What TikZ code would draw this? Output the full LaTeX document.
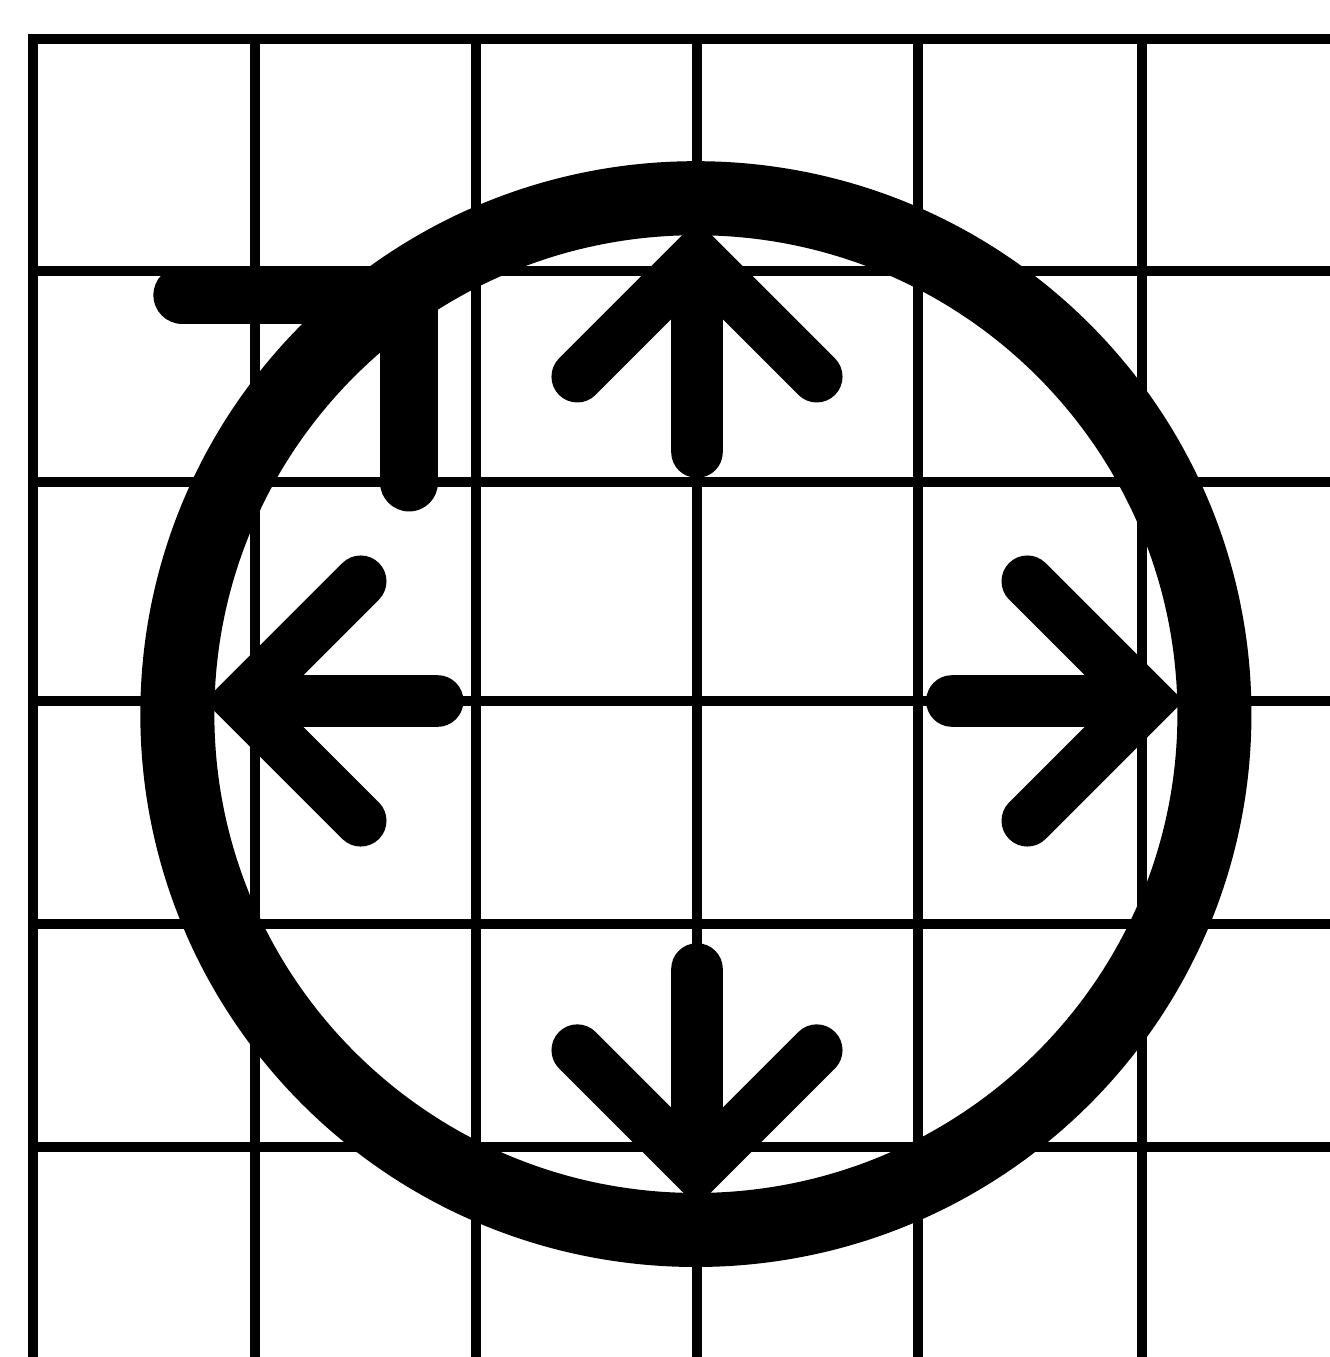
\documentclass[tikz,border=0pt]{standalone}
\begin{document}
\begin{tikzpicture}[gridline/.style={line width=.045cm,line cap=rect},ring/.style={line width=.334cm},pointer/.style={line width=.233cm,line cap=round,line join=miter},cornermark/.style={line width=.262cm,line cap=round,line join=miter}]
\useasboundingbox (-3.144,-2.959) rectangle (2.855,3.162);
\clip (-3.144,-2.959) rectangle (2.855,3.162);
% grid
\foreach \x in {-2.995,-1.994,-0.997,0,0.997,2.009} \draw[gridline] (\x,-3.2) -- (\x,2.986);
\foreach \y in {2.986,1.938,0.99,0,-1.005,-2.01} \draw[gridline] (-2.995,\y) -- (3.2,\y);
% ring and the four pointers
\coordinate (ctr) at (-0.005,-0.059);
\draw[ring] (ctr) ellipse [x radius=2.339,y radius=2.327];
\foreach \ang/\s/\t in {90/1.123/2.003,180/1.17/2.057,270/1.209/2.115,0/1.15/2.03}
  \draw[pointer,rotate=\ang] (\s,0) -- (\t,0) (\t-.54,.54) -- (\t,0) -- (\t-.54,-.54);
\draw[cornermark] (-2.321,1.83) -- (-1.298,1.83) -- (-1.298,0.986);
\end{tikzpicture}
\end{document}
